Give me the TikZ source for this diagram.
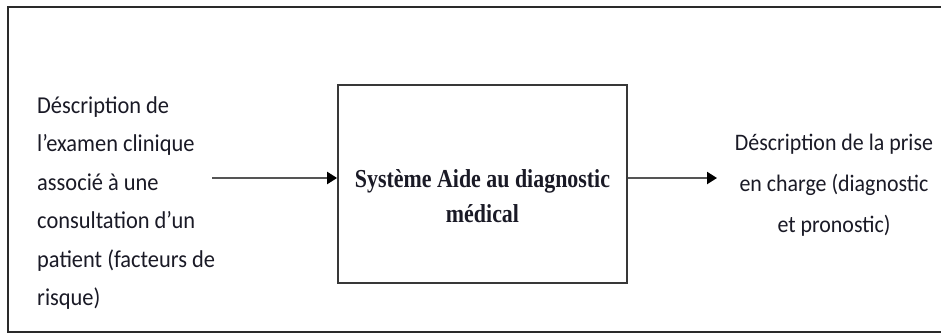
\documentclass[tikz,border=0pt]{standalone}
\usepackage{fontspec}
\setmainfont{Carlito}
\newfontfamily\boxfont{Liberation Serif}
\usetikzlibrary{arrows.meta}
\definecolor{framegray}{HTML}{2A2A2A}
\definecolor{boxgray}{HTML}{383838}
\definecolor{arrowgray}{HTML}{555555}
\definecolor{inkdark}{HTML}{1A1A26}
\tikzset{
  outerframe/.style={draw=framegray, line width=2.8pt},
  sysbox/.style={draw=boxgray, line width=1.8pt, minimum width=289bp, minimum height=198bp, inner sep=0pt},
  flow/.style={draw=arrowgray, line width=2.2pt, -{Triangle[length=10bp,width=12bp,fill=black,color=black]}},
  sidetext/.style={text=inkdark, inner sep=0pt, font=\fontsize{22.5}{38.6}\selectfont},
  boxtext/.style={text=inkdark, inner sep=0pt, align=center, font=\boxfont\bfseries\fontsize{22}{35}\selectfont}
}
\begin{document}
\begin{tikzpicture}[x=1bp, y=-1bp]
  \useasboundingbox (0,0) rectangle (941,334);
  % white page
  \fill[white] (0,0) rectangle (941,334);
  % surrounding frame, open on the right
  \draw[outerframe] (950,7) -- (8,7) -- (8,332) -- (950,332);

  % central system box
  \node[sysbox] (sys) at (482.5,184) {};
  \node[boxtext] (systxt) at (482.5,196) {\scalebox{1}[1.18]{Système Aide au diagnostic}\\\scalebox{1}[1.18]{médical}};

  % input description
  \node[sidetext, align=left, anchor=west] (input) at (37,203) {%
    \scalebox{1}[1.08]{Déscription de}\\
    \scalebox{1}[1.08]{l’examen clinique}\\
    \scalebox{1}[1.08]{associé à une}\\
    \scalebox{1}[1.08]{consultation d’un}\\
    \scalebox{1}[1.08]{patient (facteurs de}\\
    \scalebox{1}[1.08]{risque)}};

  % output description
  \node[sidetext, align=center, font=\fontsize{22}{41}\selectfont] (output) at (834,185) {%
    \scalebox{1}[1.08]{Déscription de la prise}\\
    \scalebox{1}[1.08]{en charge (diagnostic}\\
    \scalebox{1}[1.08]{et pronostic)}};

  % connectors
  \coordinate (inStart) at (212,178);
  \coordinate (outEnd) at (717,178);
  \draw[flow] (inStart) -- (inStart -| sys.west);
  \draw[flow] (sys.east |- outEnd) -- (outEnd);
\end{tikzpicture}
\end{document}
